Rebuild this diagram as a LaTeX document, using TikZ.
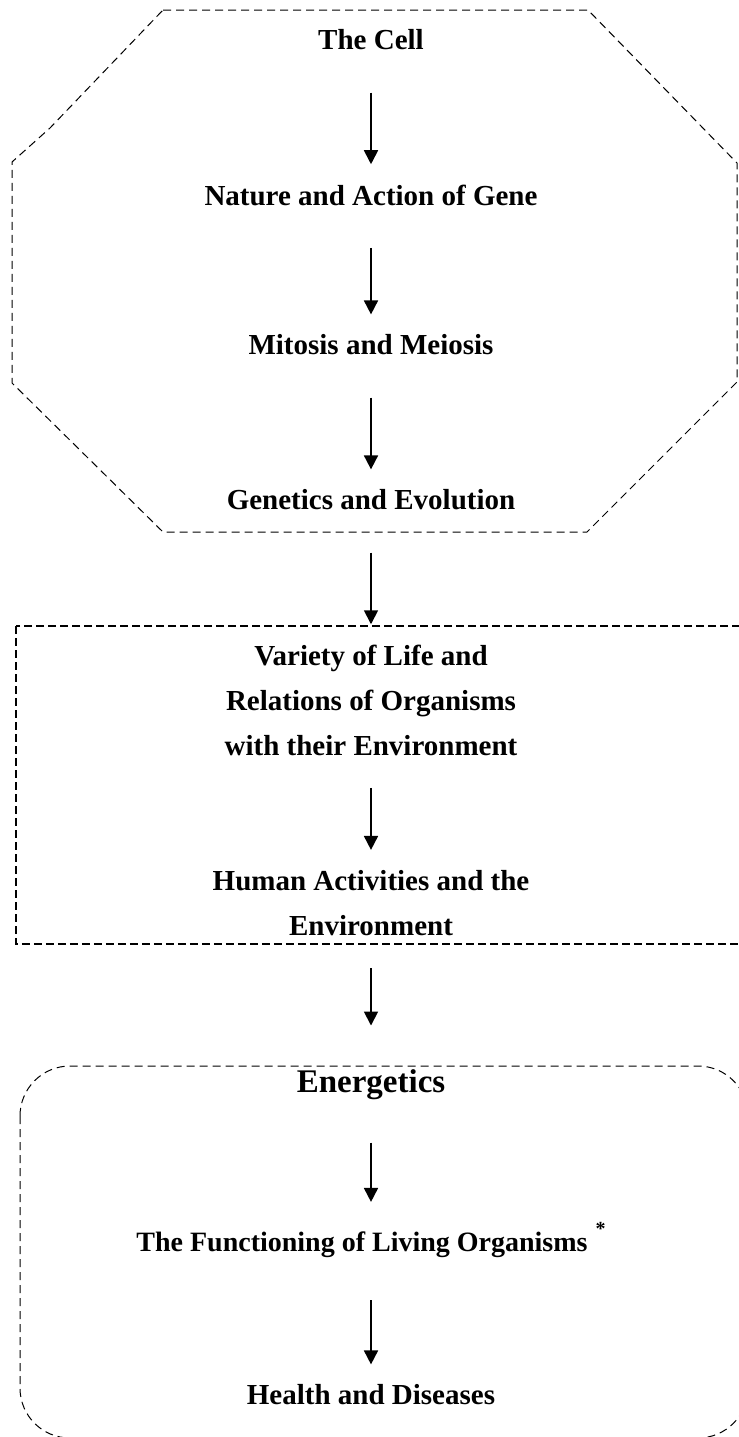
\documentclass[tikz,border=0pt]{standalone}
\usepackage{fontspec}
\setmainfont{Liberation Serif}
\usetikzlibrary{arrows.meta}

\tikzset{
  topic/.style={font=\bfseries\fontsize{14.5}{22.5}\selectfont, inner sep=0pt, align=center},
  bigtopic/.style={topic, font=\bfseries\fontsize{16.5}{20}\selectfont},
  flow/.style={line width=0.9pt, -{Triangle[length=7pt,width=7pt]},
    shorten <=21pt, shorten >=10pt},
  thinframe/.style={line width=0.5pt, dash pattern=on 4pt off 2.5pt},
  boxframe/.style={line width=1pt, dash pattern=on 3.8pt off 2.2pt}
}

\begin{document}
\begin{tikzpicture}[x=0.5pt,y=-0.5pt]
  \useasboundingbox (0,0) rectangle (739,1437);

  % frames
  \draw[thinframe] (163,10) -- (588,10) -- (737,163) -- (737,382) -- (587,532)
    -- (163,532) -- (12,383) -- (12,162) -- (50,128) -- cycle;
  \draw[boxframe] (16,626) rectangle (744,944);
  \draw[thinframe, rounded corners=25pt] (20,1066) rectangle (748,1438);

  % topics
  \node[topic] (cell) at (371,40) {The Cell};
  \node[topic] (gene) at (371,195) {Nature and Action of Gene};
  \node[topic] (mitosis) at (371,345) {Mitosis and Meiosis};
  \node[topic] (genetics) at (371,500) {Genetics and Evolution};
  \node[topic] (variety) at (371,700) {Variety of Life and\\Relations of Organisms\\with their Environment};
  \node[topic] (human) at (371,903) {Human Activities and the\\Environment};
  \node[bigtopic] (energetics) at (371,1085) {Energetics};
  \node[topic, font=\bfseries\fontsize{14}{20}\selectfont] (functioning) at (371,1240)
    {The Functioning of Living Organisms\hspace{4pt}\raisebox{8pt}{\fontsize{10}{10}\selectfont *}};
  \node[topic] (health) at (371,1395) {Health and Diseases};

  % links
  \draw[flow] (cell) -- (gene);
  \draw[flow] (gene) -- (mitosis);
  \draw[flow] (mitosis) -- (genetics);
  \draw[flow] (genetics) -- (variety);
  \draw[flow, shorten <=16pt] (variety) -- (human);
  \draw[flow, shorten <=16pt, shorten >=22pt] (human) -- (energetics);
  \draw[flow] (energetics) -- (functioning);
  \draw[flow] (functioning) -- (health);
\end{tikzpicture}
\end{document}
